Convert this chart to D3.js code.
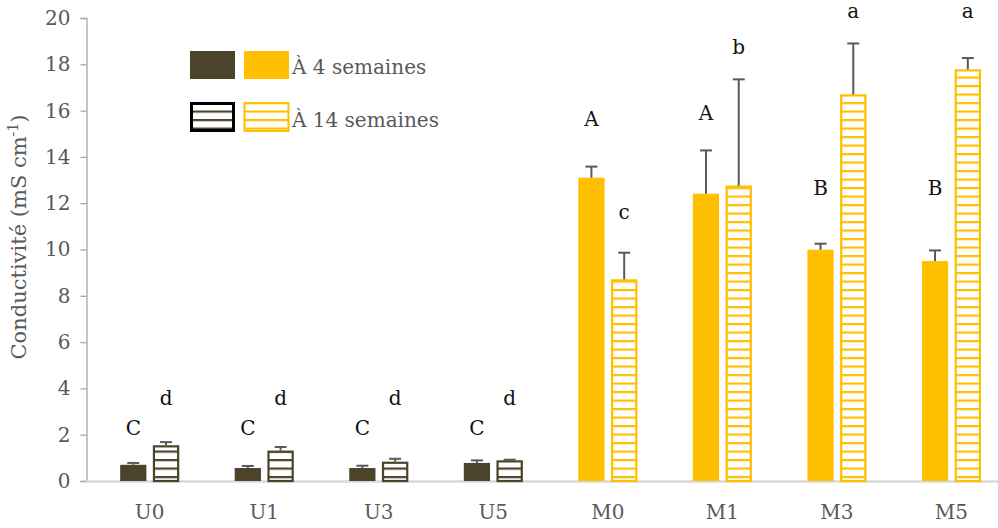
<!DOCTYPE html>
<html><head><meta charset="utf-8">
<script src="https://cdn.jsdelivr.net/npm/d3@7"></script>
<style>body{margin:0;background:#fff}svg{display:block}</style>
</head><body>
<svg id="c" width="998" height="528"></svg>
<script>
const categories = ["U0","U1","U3","U5","M0","M1","M3","M5"];
const values4  = [0.70,0.56,0.56,0.78,13.10,12.41,9.99,9.50];
const errors4  = [0.08,0.09,0.10,0.11,0.48,1.87,0.26,0.46];
const values14 = [1.54,1.31,0.83,0.89,8.71,12.76,16.70,17.78];
const errors14 = [0.14,0.16,0.13,0.03,1.15,4.59,2.20,0.49];
const letters4  = ["C","C","C","C","A","A","B","B"];
const letters14 = ["d","d","d","d","c","b","a","a"];
const letterY4  = [2.0,2.0,2.0,2.0,15.35,15.6,12.35,12.35];
const letterY14 = [3.3,3.3,3.3,3.3,11.3,18.45,20.0,20.0];
const yTicks = [0,2,4,6,8,10,12,14,16,18,20];
const series = ["4","14"];
const legendLabels = ["À 4 semaines","À 14 semaines"];

const DARK = "#4b432a", GOLD = "#ffc000", TXT = "#595959";
const FONT = "'DejaVu Serif', serif";
const colorOf = c => c.startsWith("U") ? DARK : GOLD;

const svg = d3.select("#c");
const defs = svg.append("defs");
function stripe(id, col){
  const p = defs.append("pattern").attr("id",id).attr("patternUnits","userSpaceOnUse")
    .attr("width",10).attr("height",8.5);
  p.append("rect").attr("width",10).attr("height",8.5).attr("fill","#fff");
  p.append("rect").attr("y",0).attr("width",10).attr("height",2.2).attr("fill",col);
}
stripe("sDark", DARK); stripe("sGold", GOLD);
const patOf = c => c.startsWith("U") ? "url(#sDark)" : "url(#sGold)";

const y = d3.scaleLinear().domain([0,20]).range([481,18]);
const x = d3.scaleBand().domain(categories).range([92.4,1008.7]).paddingInner(0.485).paddingOuter(0.2425);
const x1 = d3.scaleBand().domain(series).range([0,x.bandwidth()]).paddingInner(0.2);

// axes
const yAx = svg.append("g").attr("transform","translate(86.5,0)")
  .call(d3.axisLeft(y).tickValues(yTicks).tickSize(6).tickPadding(10).tickFormat(d3.format("d")));
yAx.select(".domain").attr("stroke","#a6a6a6").attr("stroke-width",1.3);
yAx.selectAll(".tick line").attr("stroke","#a6a6a6").attr("stroke-width",1.3);
yAx.selectAll("text").attr("font-family",FONT).attr("font-size",20).attr("fill",TXT);

const xAx = svg.append("g").attr("transform","translate(0,481.5)")
  .call(d3.axisBottom(x).tickSize(0).tickPadding(23));
xAx.select(".domain").attr("d","M86,0H998").attr("stroke","#d9d9d9").attr("stroke-width",2.5);
xAx.selectAll("text").attr("font-family",FONT).attr("font-size",20).attr("fill",TXT);

const data = categories.map((c,i)=>({c,i}));
const g = svg.append("g");
// solid bars (4 weeks)
g.selectAll(".b4").data(data).join("rect")
  .attr("x",d=>x(d.c)+x1("4")).attr("width",x1.bandwidth())
  .attr("y",d=>y(values4[d.i])).attr("height",d=>y(0)-y(values4[d.i]))
  .attr("fill",d=>colorOf(d.c));
// striped bars (14 weeks)
g.selectAll(".b14").data(data).join("rect")
  .attr("x",d=>x(d.c)+x1("14")+1).attr("width",x1.bandwidth()-2)
  .attr("y",d=>y(values14[d.i])+1).attr("height",d=>y(0)-y(values14[d.i])-1)
  .attr("fill",d=>patOf(d.c)).attr("stroke",d=>colorOf(d.c)).attr("stroke-width",2.2);

// error bars
function errs(vals, errsArr, s){
  const eg = svg.append("g").attr("stroke","#595959").attr("stroke-width",2);
  data.forEach(d=>{
    const cx = x(d.c)+x1(s)+x1.bandwidth()/2;
    const y0 = y(vals[d.i]), y1 = y(vals[d.i]+errsArr[d.i]);
    eg.append("line").attr("x1",cx).attr("x2",cx).attr("y1",y0).attr("y2",y1);
    eg.append("line").attr("x1",cx-6).attr("x2",cx+6).attr("y1",y1).attr("y2",y1);
  });
}
errs(values4, errors4, "4");
errs(values14, errors14, "14");

// letters
function lets(arr, ys, s){
  svg.append("g").selectAll("text").data(data).join("text")
    .attr("x",d=>x(d.c)+x1(s)+x1.bandwidth()/2).attr("y",d=>y(ys[d.i]))
    .attr("text-anchor","middle").attr("font-family",FONT).attr("font-size",20).attr("fill","#111")
    .text(d=>arr[d.i]);
}
lets(letters4, letterY4, "4");
lets(letters14, letterY14, "14");

// y title
const t = svg.append("text").attr("transform","translate(26,237) rotate(-90)")
  .attr("text-anchor","middle").attr("font-family",FONT).attr("font-size",21).attr("fill",TXT);
t.append("tspan").text("Conductivité (mS cm");
t.append("tspan").attr("baseline-shift","super").attr("font-size",14).text("-1");
t.append("tspan").text(")");

// legend
const lg = svg.append("g");
lg.append("rect").attr("x",190).attr("y",51).attr("width",45).attr("height",28).attr("fill",DARK);
lg.append("rect").attr("x",244).attr("y",51).attr("width",45).attr("height",28).attr("fill",GOLD);
lg.append("rect").attr("x",191.5).attr("y",103.5).attr("width",42).attr("height",27).attr("fill","url(#sDark)").attr("stroke","#000").attr("stroke-width",3);
lg.append("rect").attr("x",244.5).attr("y",103).attr("width",44).attr("height",28).attr("fill","url(#sGold)").attr("stroke",GOLD).attr("stroke-width",2);
lg.selectAll("text").data(legendLabels).join("text")
  .attr("x",292).attr("y",(d,i)=>i?127:74)
  .attr("font-family",FONT).attr("font-size",20).attr("fill",TXT).text(d=>d);
</script>
</body></html>
